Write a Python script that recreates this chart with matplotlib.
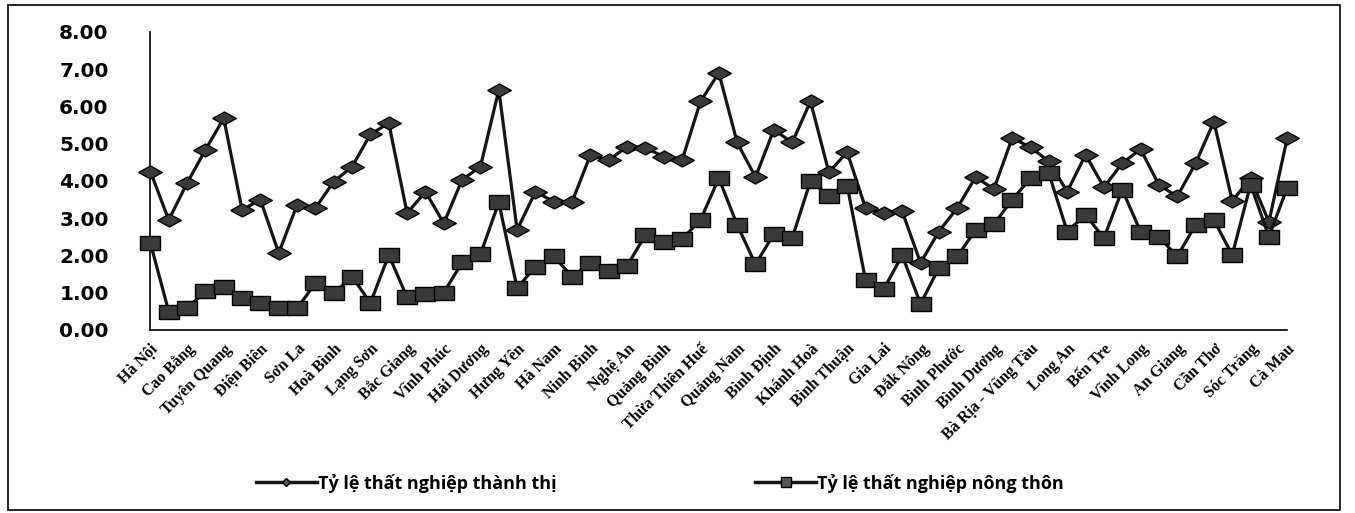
import matplotlib.pyplot as plt
from matplotlib.lines import Line2D
from matplotlib.patches import Rectangle

# 63 provinces, official order; every second one is labelled on the axis
provinces = [
    "Hà Nội", "Hà Giang", "Cao Bằng", "Bắc Kạn", "Tuyên Quang", "Lào Cai",
    "Điện Biên", "Lai Châu", "Sơn La", "Yên Bái", "Hoà Bình", "Thái Nguyên",
    "Lạng Sơn", "Quảng Ninh", "Bắc Giang", "Phú Thọ", "Vĩnh Phúc", "Bắc Ninh",
    "Hải Dương", "Hải Phòng", "Hưng Yên", "Thái Bình", "Hà Nam", "Nam Định",
    "Ninh Bình", "Thanh Hoá", "Nghệ An", "Hà Tĩnh", "Quảng Bình", "Quảng Trị",
    "Thừa Thiên Huế", "Đà Nẵng", "Quảng Nam", "Quảng Ngãi", "Bình Định",
    "Phú Yên", "Khánh Hoà", "Ninh Thuận", "Bình Thuận", "Kon Tum", "Gia Lai",
    "Đắk Lắk", "Đắk Nông", "Lâm Đồng", "Bình Phước", "Tây Ninh", "Bình Dương",
    "Đồng Nai", "Bà Rịa - Vũng Tàu", "TP. Hồ Chí Minh", "Long An", "Tiền Giang",
    "Bến Tre", "Trà Vinh", "Vĩnh Long", "Đồng Tháp", "An Giang", "Kiên Giang",
    "Cần Thơ", "Hậu Giang", "Sóc Trăng", "Bạc Liêu", "Cà Mau",
]

urban = [
    4.25, 2.95, 3.94, 4.83, 5.68, 3.22, 3.49, 2.06, 3.36, 3.27,
    3.98, 4.38, 5.25, 5.55, 3.13, 3.71, 2.86, 4.03, 4.38, 6.44,
    2.68, 3.71, 3.44, 3.44, 4.70, 4.56, 4.92, 4.88, 4.65, 4.56,
    6.13, 6.90, 5.03, 4.10, 5.37, 5.03, 6.13, 4.23, 4.77, 3.27,
    3.15, 3.18, 1.80, 2.64, 3.27, 4.10, 3.78, 5.15, 4.90, 4.52,
    3.71, 4.70, 3.83, 4.47, 4.85, 3.89, 3.58, 4.47, 5.59, 3.46,
    4.07, 2.90, 5.15,
]

rural = [
    2.33, 0.49, 0.58, 1.03, 1.16, 0.85, 0.72, 0.58, 0.58, 1.25,
    0.98, 1.43, 0.72, 2.01, 0.87, 0.95, 1.00, 1.81, 2.03, 3.42,
    1.12, 1.70, 1.97, 1.43, 1.79, 1.57, 1.72, 2.55, 2.35, 2.44,
    2.95, 4.07, 2.82, 1.76, 2.57, 2.46, 4.00, 3.60, 3.87, 1.34,
    1.10, 2.00, 0.70, 1.66, 1.97, 2.68, 2.84, 3.49, 4.07, 4.20,
    2.64, 3.09, 2.46, 3.76, 2.64, 2.50, 1.97, 2.82, 2.95, 2.01,
    3.90, 2.50, 3.82,
]

series_names = ["Tỷ lệ thất nghiệp thành thị", "Tỷ lệ thất nghiệp nông thôn"]
y_ticks = [0, 1, 2, 3, 4, 5, 6, 7, 8]

# flattened diamond and box, as they look in the scanned chart
DIAMOND = [(-1, 0), (0, 0.55), (1, 0), (0, -0.55), (-1, 0)]
BOX = [(-1, -0.68), (1, -0.68), (1, 0.68), (-1, 0.68), (-1, -0.68)]

fig = plt.figure(figsize=(13.55, 5.13), dpi=100)
fig.patches.append(Rectangle((0.006, 0.006), 0.983, 0.984, transform=fig.transFigure,
                             fill=False, edgecolor="black", linewidth=1.2))

ax = fig.add_axes([0.111, 0.357, 0.839, 0.581])
x = list(range(len(provinces)))

ax.plot(x, urban, color="#151515", linewidth=2.3, marker=DIAMOND, markersize=17,
        markerfacecolor="#3a3a3a", markeredgecolor="black", markeredgewidth=1,
        clip_on=False, zorder=3)
ax.plot(x, rural, color="#151515", linewidth=2.3, marker=BOX, markersize=14,
        markerfacecolor="#3a3a3a", markeredgecolor="black", markeredgewidth=1,
        clip_on=False, zorder=3)

ax.set_xlim(0, len(provinces) - 1)
ax.set_ylim(0, 8)
ax.set_yticks(y_ticks)
ax.set_yticklabels(["%.2f" % v for v in y_ticks], fontsize=14.5, fontweight="bold",
                   family="DejaVu Sans")
ax.set_xticks(x[::2])
ax.set_xticklabels(provinces[::2], rotation=45, ha="right", rotation_mode="anchor",
                   fontsize=11.5, fontweight="bold", family="Liberation Serif")
ax.tick_params(axis="y", length=0, pad=30)
ax.tick_params(axis="x", length=0, pad=8)

for side in ["top", "right"]:
    ax.spines[side].set_visible(False)
for side in ["left", "bottom"]:
    ax.spines[side].set_linewidth(1.2)

handles = [
    Line2D([], [], color="#151515", linewidth=2.5, marker="D", markersize=4,
           markerfacecolor="#555555", markeredgecolor="black"),
    Line2D([], [], color="#151515", linewidth=2.5, marker="s", markersize=7,
           markerfacecolor="#555555", markeredgecolor="black"),
]
fig.legend(handles, series_names, loc="center", bbox_to_anchor=(0.487, 0.058),
           ncol=2, frameon=False, handlelength=3.4, handletextpad=0.05,
           columnspacing=11, prop={"family": ["Open Sans", "DejaVu Sans"],
                                   "weight": "bold", "size": 13})

plt.savefig("out.png", dpi=100)
